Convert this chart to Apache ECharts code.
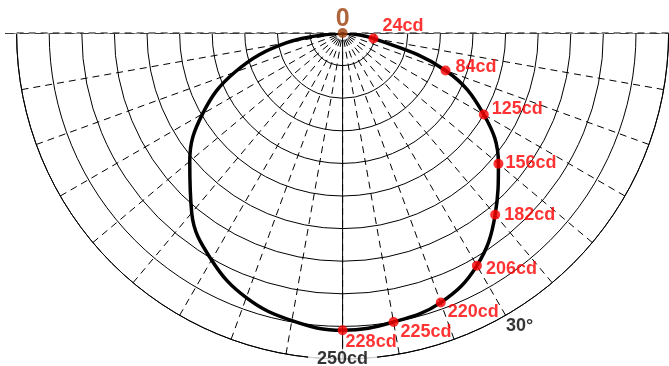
<!DOCTYPE html>
<html><head><meta charset="utf-8">
<script src="https://cdn.jsdelivr.net/npm/echarts@6/dist/echarts.min.js"></script>
<style>html,body{margin:0;padding:0;background:#fff}#c{width:669px;height:366px}</style>
</head><body><div id="c"></div>
<script>
// angles measured from nadir (0 = straight down), degrees
const angles = [0, 10, 20, 30, 40, 50, 60, 70, 80, 90];
// luminous intensity in cd on the right (labelled) half
const intensities = [228, 225, 220, 206, 182, 156, 125, 84, 24, 0];
// luminous intensity in cd on the left (unlabelled) half
const intensitiesLeft = [228, 224, 216, 201, 180, 153, 124, 88, 44, 0];
const pointLabels = ['228cd', '225cd', '220cd', '206cd', '182cd', '156cd', '125cd', '84cd', '24cd', '0'];
const radiusMax = 250;
const radiusStep = 25;
const angleStep = 10;
const scaleLabel = '250cd';
const angleLabel = '30°';
const angleLabelAt = 30;

// label offsets (style only): [dx, dy] of label relative to point
const labelOffsets = [[3, 12], [7, 10], [7, 9], [9, 3], [9, 0], [7, -1], [8, -5], [10, -3], [9, -12]];

// axis value v: 0 = right horizontal, 90 = nadir, 180 = left horizontal
const rightV = a => 90 - a;
const leftV = a => 90 + a;

const curve = [];
for (let i = angles.length - 1; i >= 1; i--) curve.push([intensitiesLeft[i], leftV(angles[i])]);
for (let i = 0; i < angles.length; i++) curve.push([intensities[i], rightV(angles[i])]);

const RED = '#ff0000';
const BROWN = '#9c3d0a';
const FONT = 'Liberation Sans, Arial, sans-serif';

const redPoints = [];
for (let i = 0; i < angles.length; i++) {
  if (intensities[i] === 0) continue;
  const off = labelOffsets[i];
  redPoints.push({
    value: [intensities[i], rightV(angles[i])],
    label: { show: true, formatter: pointLabels[i], position: 'right', distance: 0, offset: [off[0] - 5, off[1]] }
  });
}
const zeroIdx = intensities.indexOf(0);

const hiddenAxis = { axisLine: { show: false }, axisTick: { show: false }, axisLabel: { show: false }, splitLine: { show: false } };

const chart = echarts.init(document.getElementById('c'), null, { renderer: 'canvas' });
chart.setOption({
  animation: false,
  backgroundColor: '#fff',
  polar: [
    { center: [342.6, 33], radius: 326 },
    { center: [342.6, 33], radius: 337.7 }
  ],
  angleAxis: [{
    polarIndex: 0,
    type: 'value', min: 0, max: 180, interval: angleStep,
    startAngle: 0, endAngle: -180, clockwise: true,
    axisLine: { show: true, lineStyle: { color: '#000', width: 1 } },
    axisTick: { show: false }, axisLabel: { show: false },
    splitLine: { show: true, lineStyle: { color: '#000', width: 1, type: [7, 5] } }
  }, Object.assign({
    polarIndex: 1, type: 'value', min: 0, max: 180, startAngle: 0, endAngle: -180, clockwise: true
  }, hiddenAxis)],
  radiusAxis: [{
    polarIndex: 0,
    type: 'value', min: 0, max: radiusMax, interval: radiusStep,
    axisLine: { show: false }, axisTick: { show: false }, axisLabel: { show: false },
    splitLine: { show: true, lineStyle: { color: '#000', width: 1 } }
  }, Object.assign({ polarIndex: 1, type: 'value', min: 0, max: 1 }, hiddenAxis)],
  series: [
    { type: 'line', coordinateSystem: 'polar', polarIndex: 1, data: [[1, 180], [0, 90], [1, 0]], symbol: 'none', clip: false, silent: true,
      lineStyle: { color: '#8a8a8a', width: 2 }, z: 1 },
    { type: 'line', coordinateSystem: 'polar', polarIndex: 1, data: [[1, 180], [0, 90], [1, 0]], symbol: 'none', clip: false, silent: true,
      lineStyle: { color: '#3a3a3a', width: 2, type: [9, 6] }, z: 1 },
    { type: 'line', coordinateSystem: 'polar', data: [[0, 90], [radiusMax, 90]], symbol: 'none', silent: true,
      lineStyle: { color: '#000', width: 1 }, z: 1 },
    { type: 'line', coordinateSystem: 'polar', data: curve, smooth: 0.4, symbol: 'none', clip: false,
      lineStyle: { color: '#000', width: 3.5 }, z: 3 },
    { type: 'scatter', coordinateSystem: 'polar', data: redPoints, symbolSize: 10, clip: false,
      itemStyle: { color: RED },
      label: { color: RED, fontWeight: 'bold', fontSize: 18, fontFamily: FONT }, z: 4 },
    { type: 'scatter', coordinateSystem: 'polar', clip: false,
      data: [{ value: [0, 90], label: { show: true, formatter: pointLabels[zeroIdx], position: 'inside', offset: [0, -14] } }],
      symbolSize: 10, itemStyle: { color: BROWN },
      label: { color: BROWN, fontWeight: 'bold', fontSize: 25, fontFamily: FONT }, z: 5 },
    { type: 'scatter', coordinateSystem: 'polar', clip: false, silent: true,
      data: [
        { value: [radiusMax, 90], label: { show: true, formatter: scaleLabel, position: 'inside', offset: [0, 0],
            backgroundColor: '#fff', padding: [2, 9, 0, 9] } },
        { value: [radiusMax, rightV(angleLabelAt)], label: { show: true, formatter: angleLabel, position: [1, 2], align: 'left', verticalAlign: 'top' } }
      ],
      symbolSize: 1, itemStyle: { color: 'rgba(0,0,0,0)' },
      label: { color: '#000', fontWeight: 'bold', fontSize: 18, fontFamily: FONT }, z: 6 }
  ]
});
</script></body></html>
